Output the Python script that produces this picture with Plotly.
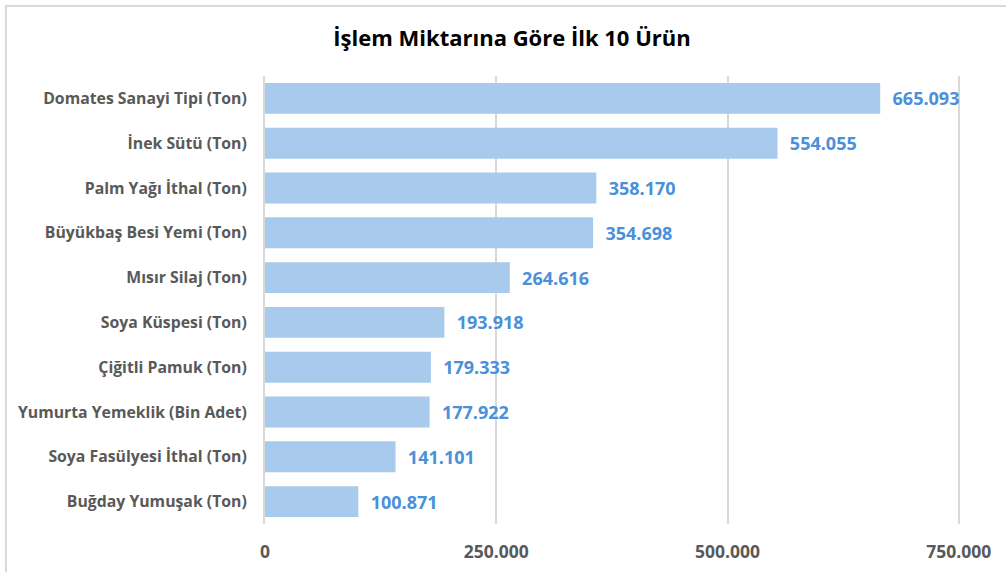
import plotly.graph_objects as go

categories = [
    "Domates Sanayi Tipi (Ton)",
    "İnek Sütü (Ton)",
    "Palm Yağı İthal (Ton)",
    "Büyükbaş Besi Yemi (Ton)",
    "Mısır Silaj (Ton)",
    "Soya Küspesi (Ton)",
    "Çiğitli Pamuk (Ton)",
    "Yumurta Yemeklik (Bin Adet)",
    "Soya Fasülyesi İthal (Ton)",
    "Buğday Yumuşak (Ton)",
]
values = [665093, 554055, 358170, 354698, 264616, 193918, 179333, 177922, 141101, 100871]
tick_vals = [0, 250000, 500000, 750000]
tick_text = ["0", "250.000", "500.000", "750.000"]
title = "İşlem Miktarına Göre İlk 10 Ürün"

FONT = "Open Sans"
W, H = 1006, 572
L, T, B = 265, 76, 572 - 524
XMAX = 760000
PW = 693.5 * XMAX / 750000
R = W - L - PW
PH = H - T - B

fig = go.Figure(
    go.Bar(
        y=categories,
        x=values,
        orientation="h",
        marker=dict(color="#A8CAEC", line=dict(width=0)),
        width=0.69,
        text=["  " + f"{v:,}".replace(",", ".") for v in values],
        textposition="outside",
        cliponaxis=False,
        textfont=dict(family=FONT, size=18, color="#4A90DA", weight="bold"),
        hoverinfo="skip",
    )
)

fig.update_layout(
    width=W,
    height=H,
    paper_bgcolor="white",
    plot_bgcolor="white",
    separators=",.",
    margin=dict(l=L, r=R, t=T, b=B, autoexpand=False),
    showlegend=False,
    title=dict(
        text="<b>" + title + "</b>",
        xref="container",
        x=512 / W,
        xanchor="center",
        y=1 - 38 / H,
        yanchor="middle",
        font=dict(family=FONT, size=22, color="#000000"),
    ),
    xaxis=dict(
        range=[0, XMAX],
        tickvals=tick_vals,
        ticktext=tick_text,
        showgrid=True,
        gridcolor="#D9D9D9",
        gridwidth=2,
        zeroline=False,
        showline=False,
        ticks="outside",
        ticklen=12,
        tickcolor="rgba(0,0,0,0)",
        tickfont=dict(family=FONT, size=17.5, color="#595959", weight="bold"),
        fixedrange=True,
    ),
    yaxis=dict(
        autorange="reversed",
        showline=True,
        linecolor="#D9D9D9",
        linewidth=2,
        showgrid=False,
        ticks="outside",
        ticklen=13,
        tickcolor="rgba(0,0,0,0)",
        tickfont=dict(family=FONT, size=15.8, color="#595959", weight="bold"),
        fixedrange=True,
    ),
    shapes=[
        dict(
            type="rect",
            xref="paper",
            yref="paper",
            x0=(6 - L) / PW,
            x1=(W + 20 - L) / PW,
            y0=-(B + 20) / PH,
            y1=1 + (T - 6) / PH,
            line=dict(color="#D9D9D9", width=2),
            fillcolor="rgba(0,0,0,0)",
            layer="below",
        )
    ],
)

fig.write_html(
    "out.html",
    config={"displayModeBar": False},
    post_script="document.body.style.margin='0';document.body.style.overflow='hidden';",
)
